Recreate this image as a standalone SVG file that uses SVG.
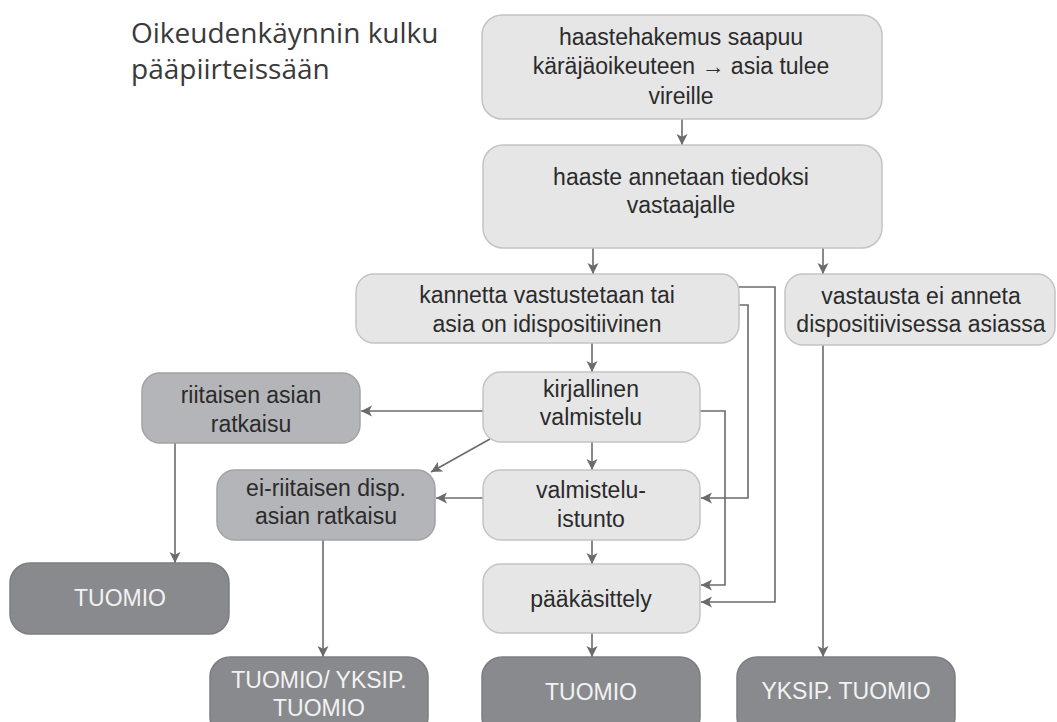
<svg xmlns="http://www.w3.org/2000/svg" width="1057" height="722" viewBox="0 0 1057 722">
<style>
.light{fill:#e6e6e7;stroke:#c4c4c6;stroke-width:1.5}
.mid{fill:#b4b5b8;stroke:#a2a3a6;stroke-width:1.5}
.dark{fill:#898a8d;stroke:#7c7d80;stroke-width:1.5}
.t{font-family:"Liberation Sans",Arial,sans-serif;font-size:23px;fill:#2b2b2b;text-anchor:middle}
.tw{font-family:"Liberation Sans",Arial,sans-serif;font-size:23px;fill:#f2f2f2;text-anchor:middle}
.title{font-family:"Open Sans","Liberation Sans",sans-serif;font-weight:400;font-size:28px;fill:#3a3a3a}
.c{fill:none;stroke:#6b6b6b;stroke-width:1.6}
</style>
<defs>
<marker id="ah" viewBox="0 0 12 12" refX="12" refY="6" markerWidth="11" markerHeight="12" markerUnits="userSpaceOnUse" orient="auto">
<path d="M0,0 L12,6 L0,12 L3,6 Z" fill="#6b6b6b"/>
</marker>
</defs>
<rect width="1057" height="722" fill="#ffffff"/>
<g id="title">
<text class="title" x="131" y="43">Oikeudenkäynnin kulku</text>
<text class="title" x="131" y="79">pääpiirteissään</text>
</g>
<g id="connectors">
<line class="c" x1="682" y1="119" x2="682" y2="145" marker-end="url(#ah)"/>
<line class="c" x1="593" y1="248" x2="593" y2="274" marker-end="url(#ah)"/>
<line class="c" x1="823" y1="248" x2="823" y2="274" marker-end="url(#ah)"/>
<line class="c" x1="592" y1="343" x2="592" y2="372" marker-end="url(#ah)"/>
<line class="c" x1="592" y1="442" x2="592" y2="470" marker-end="url(#ah)"/>
<line class="c" x1="592" y1="540" x2="592" y2="564" marker-end="url(#ah)"/>
<line class="c" x1="592" y1="633" x2="592" y2="657" marker-end="url(#ah)"/>
<line class="c" x1="823" y1="345" x2="823" y2="657" marker-end="url(#ah)"/>
<line class="c" x1="483" y1="411" x2="361" y2="411" marker-end="url(#ah)"/>
<line class="c" x1="490" y1="439" x2="431" y2="472" marker-end="url(#ah)"/>
<line class="c" x1="483" y1="498" x2="436" y2="498" marker-end="url(#ah)"/>
<line class="c" x1="175" y1="443" x2="175" y2="563" marker-end="url(#ah)"/>
<line class="c" x1="323" y1="540" x2="323" y2="657" marker-end="url(#ah)"/>
<polyline class="c" points="739,287 775,287 775,602 701,602" marker-end="url(#ah)"/>
<polyline class="c" points="739,305 748,305 748,498 701,498" marker-end="url(#ah)"/>
<polyline class="c" points="700,411 725,411 725,585 701,585" marker-end="url(#ah)"/>
</g>
<g id="n1">
<rect class="light" x="482" y="15" width="400" height="104" rx="20"/>
<text class="t" x="681" y="45">haastehakemus saapuu</text>
<text class="t" x="681" y="74">käräjäoikeuteen <tspan font-weight="bold">→</tspan> asia tulee</text>
<text class="t" x="681" y="104">vireille</text>
</g>
<g id="n2">
<rect class="light" x="483" y="145" width="399" height="103" rx="20"/>
<text class="t" x="681" y="185">haaste annetaan tiedoksi</text>
<text class="t" x="681" y="213">vastaajalle</text>
</g>
<g id="n3">
<rect class="light" x="356" y="274" width="383" height="69" rx="18"/>
<text class="t" x="547" y="303">kannetta vastustetaan tai</text>
<text class="t" x="547" y="332">asia on idispositiivinen</text>
</g>
<g id="n4">
<rect class="light" x="785" y="274" width="270" height="71" rx="18"/>
<text class="t" x="921" y="304">vastausta ei anneta</text>
<text class="t" x="921" y="332">dispositiivisessa asiassa</text>
</g>
<g id="n5">
<rect class="light" x="483" y="372" width="217" height="70" rx="18"/>
<text class="t" x="591" y="397">kirjallinen</text>
<text class="t" x="591" y="425">valmistelu</text>
</g>
<g id="n6">
<rect class="light" x="483" y="470" width="217" height="70" rx="18"/>
<text class="t" x="591" y="498">valmistelu-</text>
<text class="t" x="591" y="527">istunto</text>
</g>
<g id="n7">
<rect class="light" x="483" y="564" width="217" height="69" rx="18"/>
<text class="t" x="591" y="607">pääkäsittely</text>
</g>
<g id="n8">
<rect class="mid" x="142" y="373" width="218" height="70" rx="18"/>
<text class="t" x="251" y="403">riitaisen asian</text>
<text class="t" x="251" y="432">ratkaisu</text>
</g>
<g id="n9">
<rect class="mid" x="217" y="470" width="218" height="70" rx="18"/>
<text class="t" x="326" y="496">ei-riitaisen disp.</text>
<text class="t" x="326" y="524">asian ratkaisu</text>
</g>
<g id="n10">
<rect class="dark" x="10" y="563" width="219" height="71" rx="20"/>
<text class="tw" x="120" y="606">TUOMIO</text>
</g>
<g id="n11">
<rect class="dark" x="210" y="657" width="218" height="80" rx="20"/>
<text class="tw" x="319" y="688">TUOMIO/ YKSIP.</text>
<text class="tw" x="319" y="716">TUOMIO</text>
</g>
<g id="n12">
<rect class="dark" x="482" y="657" width="218" height="80" rx="20"/>
<text class="tw" x="591" y="700">TUOMIO</text>
</g>
<g id="n13">
<rect class="dark" x="737" y="657" width="218" height="80" rx="20"/>
<text class="tw" x="846" y="699">YKSIP. TUOMIO</text>
</g>
</svg>
